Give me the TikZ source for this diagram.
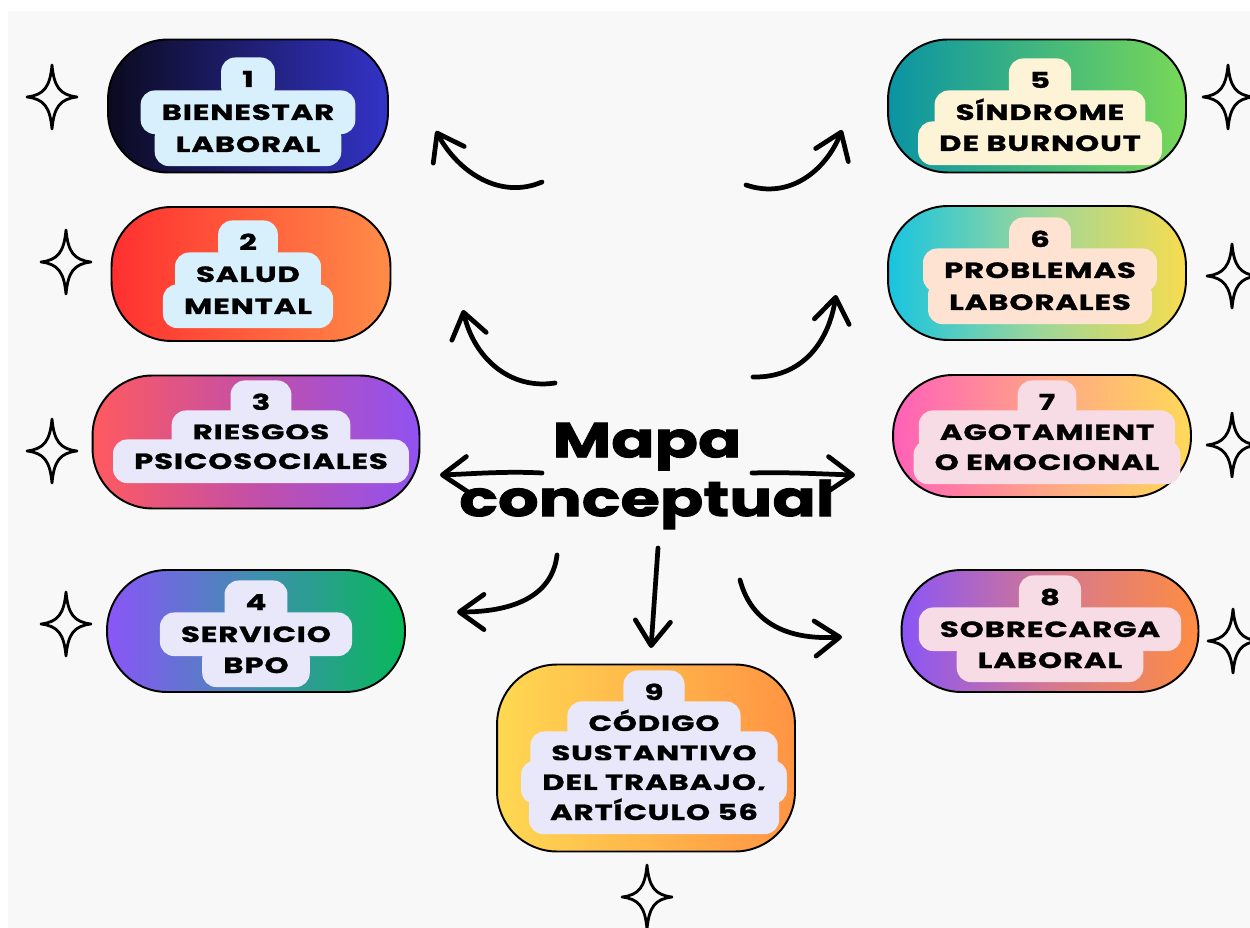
\documentclass[tikz,border=0pt]{standalone}
\usepackage{fontspec}
\newfontfamily\chipfont{Poppins}[FakeStretch=1.4,LetterSpace=4,FakeBold=1.2]
\newfontfamily\titlefont{Poppins}[FakeStretch=1.3,FakeBold=1.8]
\usetikzlibrary{arrows.meta,positioning}

\definecolor{fondo}{HTML}{F8F8F8}
\definecolor{c1l}{HTML}{0B0A1F}\definecolor{c1r}{HTML}{3333C8}\definecolor{in1}{HTML}{D8F0FB}
\definecolor{c2l}{HTML}{FF3030}\definecolor{c2r}{HTML}{FF8C48}\definecolor{in2}{HTML}{D8F0FB}
\definecolor{c3l}{HTML}{FF5A5F}\definecolor{c3m}{HTML}{C24FA8}\definecolor{c3r}{HTML}{9052F2}\definecolor{in3}{HTML}{E9E8FA}
\definecolor{c4l}{HTML}{8B55F8}\definecolor{c4m}{HTML}{3F8FB0}\definecolor{c4r}{HTML}{08B85A}\definecolor{in4}{HTML}{E9E8FA}
\definecolor{c5l}{HTML}{0A94A4}\definecolor{c5r}{HTML}{78D858}\definecolor{in5}{HTML}{FDF3D6}
\definecolor{c6l}{HTML}{18C4E0}\definecolor{c6m}{HTML}{9BD69A}\definecolor{c6r}{HTML}{F7DC50}\definecolor{in6}{HTML}{FEE3D2}
\definecolor{c7l}{HTML}{FF60B8}\definecolor{c7m}{HTML}{FFA488}\definecolor{c7r}{HTML}{FFD958}\definecolor{in7}{HTML}{F8DCE5}
\definecolor{c8l}{HTML}{8A55F6}\definecolor{c8m}{HTML}{D47890}\definecolor{c8r}{HTML}{FF8C42}\definecolor{in8}{HTML}{F8DCE5}
\definecolor{c9l}{HTML}{FFD852}\definecolor{c9r}{HTML}{FF9443}\definecolor{in9}{HTML}{E9E8FA}

\begin{document}
\begin{tikzpicture}[x=0.02cm,y=-0.02cm,>={Straight Barb[length=14pt,width=20pt,round]}]
        \tikzset{
            pill/.style= {
                draw,
                line width=1.1pt,
                rounded corners=1.2cm,
                minimum width=5.96cm,
                minimum height=2.66cm,
                inner sep=0pt
            },
            chip/.style= {
                fill=#1,
                rounded corners=8pt,
                inner xsep=12pt,
                inner ysep=8pt,
                text height=8.8pt,
                text depth=0pt,
                anchor=base,
                font=\chipfont\bfseries\fontsize{12.5}{14}\selectfont
            },
            flecha/.style={->, line width=2.7pt, line cap=round},
            sparkle/.pic={
                \draw[line width=1.6pt, line join=round]
                    (0,-32) .. controls (2,-10) and (8,-2) .. (25,0)
                    .. controls (8,2) and (2,10) .. (0,32)
                    .. controls (-2,10) and (-8,2) .. (-25,0)
                    .. controls (-8,-2) and (-2,-10) .. cycle;
            },
        }
\useasboundingbox (0,0) rectangle (1250,928);
\fill[white] (0,0) rectangle (1250,928);
\fill[fondo] (8,11) rectangle (1250,928);
%% left column
        \node [pill, left color=c1l, right color=c1r, minimum width=5.6cm] (bienestar) at (248,106) {};
        \node [chip=in1] (bienestar_0) at (248,87) {1};
        \node [chip=in1] (bienestar_1) at (248,120) {BIENESTAR};
        \node [chip=in1] (bienestar_2) at (248,152) {LABORAL};

        \node [pill, left color=c2l, right color=c2r, minimum width=5.58cm, minimum height=2.68cm] (salud) at (251,274) {};
        \node [chip=in2] (salud_0) at (248,250) {2};
        \node [chip=in2] (salud_1) at (248,282) {SALUD};
        \node [chip=in2] (salud_2) at (248,314) {MENTAL};

        \node [pill, left color=c3l, right color=c3r, middle color=c3m, minimum width=6.54cm] (riesgos) at (256,442) {};
        \node [chip=in3] (riesgos_0) at (261,410) {3};
        \node [chip=in3] (riesgos_1) at (261,440) {RIESGOS};
        \node [chip=in3] (riesgos_2) at (261,469) {PSICOSOCIALES};

        \node [pill, left color=c4l, right color=c4r, middle color=c4m, minimum height=2.44cm] (bpo) at (256,631) {};
        \node [chip=in4] (bpo_0) at (256,610) {4};
        \node [chip=in4] (bpo_1) at (256,642) {SERVICIO};
        \node [chip=in4] (bpo_2) at (256,673) {BPO};
%% right column
        \node [pill, left color=c5l, right color=c5r] (burnout) at (1037,106) {};
        \node [chip=in5] (burnout_0) at (1040,88) {5};
        \node [chip=in5] (burnout_1) at (1040,120) {SÍNDROME};
        \node [chip=in5] (burnout_2) at (1040,151) {DE BURNOUT};

        \node [pill, left color=c6l, right color=c6r, middle color=c6m, minimum height=2.68cm] (problemas) at (1037,273) {};
        \node [chip=in6] (problemas_0) at (1040,247) {6};
        \node [chip=in6] (problemas_1) at (1040,278) {PROBLEMAS};
        \node [chip=in6] (problemas_2) at (1040,310) {LABORALES};

        \node [pill, left color=c7l, right color=c7r, middle color=c7m, minimum height=2.44cm] (agotamiento) at (1042,436) {};
        \node [chip=in7] (agotamiento_0) at (1047,410) {7};
        \node [chip=in7] (agotamiento_1) at (1047,440) {AGOTAMIENT};
        \node [chip=in7] (agotamiento_2) at (1047,470) {O EMOCIONAL};

        \node [pill, left color=c8l, right color=c8r, middle color=c8m, minimum width=5.94cm, minimum height=2.44cm] (sobrecarga) at (1050,631) {};
        \node [chip=in8] (sobrecarga_0) at (1050,605) {8};
        \node [chip=in8] (sobrecarga_1) at (1050,637) {SOBRECARGA};
        \node [chip=in8] (sobrecarga_2) at (1050,668) {LABORAL};
%% bottom
        \node [pill, left color=c9l, right color=c9r, minimum height=3.74cm] (codigo) at (646,758) {};
        \node [chip=in9] (codigo_0) at (654,700) {9};
        \node [chip=in9] (codigo_1) at (654,731) {CÓDIGO};
        \node [chip=in9] (codigo_2) at (654,761) {SUSTANTIVO};
        \node [chip=in9] (codigo_3) at (654,790) {DEL TRABAJO,};
        \node [chip=in9] (codigo_4) at (654,820) {ARTÍCULO 56};
%% title
        \node [font=\titlefont\bfseries\fontsize{28}{33.5}\selectfont, align=center] (mapa) at (647,476)
            {Mapa\\conceptual};
%% stars
\pic at (52,97) {sparkle};
\pic at (66,262) {sparkle};
\pic at (52,451) {sparkle};
\pic at (66,624) {sparkle};
\pic at (1228,97) {sparkle};
\pic at (1232,276) {sparkle};
\pic at (1232,445) {sparkle};
\pic at (1233,641) {sparkle};
\pic at (647,897) {sparkle};
%% paths
\coordinate (f1a) at (542,182); \coordinate (f1b) at (436,131);
\coordinate (f2a) at (555,383); \coordinate (f2b) at (463,310);
\coordinate (f3a) at (542,473); \coordinate (f3b) at (440,475);
\coordinate (f4a) at (557,555); \coordinate (f4b) at (457,612);
\coordinate (f5a) at (746,185); \coordinate (f5b) at (842,130);
\coordinate (f6a) at (753,377); \coordinate (f6b) at (836,295);
\coordinate (f7a) at (752,473); \coordinate (f7b) at (855,475);
\coordinate (f8a) at (740,580); \coordinate (f8b) at (842,637);
\coordinate (f9a) at (658,548); \coordinate (f9b) at (651,648);
\draw[flecha] (f1a) .. controls (500,200) and (458,172) .. (f1b);
\draw[flecha] (f2a) .. controls (510,390) and (474,358) .. (f2b);
\draw[flecha] (f3a) .. controls (505,471) and (470,474) .. (f3b);
\draw[flecha] (f4a) .. controls (552,598) and (510,612) .. (f4b);
\draw[flecha] (f5a) .. controls (790,200) and (826,170) .. (f5b);
\draw[flecha] (f6a) .. controls (800,378) and (828,345) .. (f6b);
\draw[flecha] (f7a) .. controls (790,472) and (820,474) .. (f7b);
\draw[flecha] (f8a) .. controls (752,625) and (790,640) .. (f8b);
\draw[flecha] (f9a) -- (f9b);
\end{tikzpicture}
\end{document}
